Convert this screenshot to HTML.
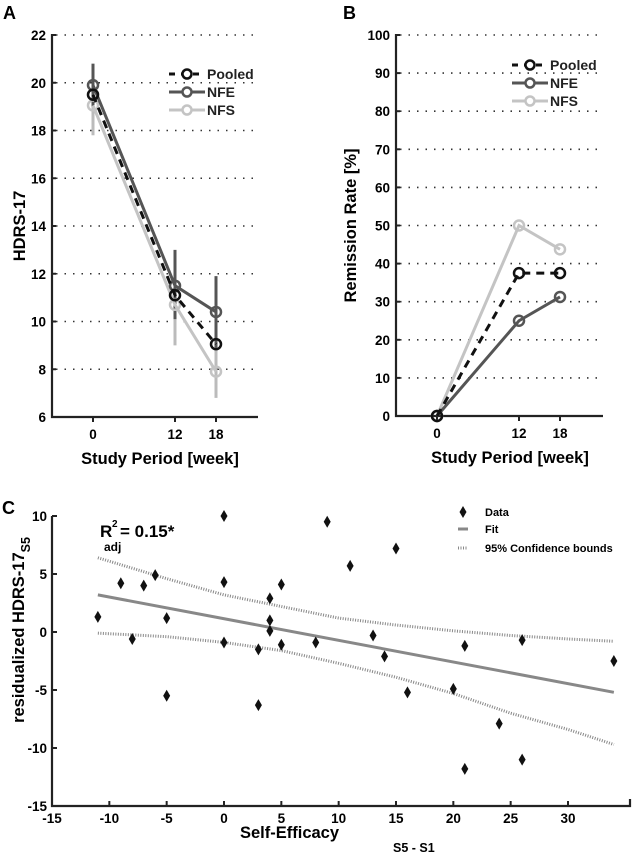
<!DOCTYPE html>
<html><head><meta charset="utf-8"><style>
html,body{margin:0;padding:0;background:#fff;}
svg{display:block;font-family:"Liberation Sans",Arial,sans-serif;font-weight:bold;}
</style></head><body>
<svg id="fig" width="633" height="856" viewBox="0 0 633 856">
<text x="3" y="19" font-size="18">A</text>
<text x="343" y="19" font-size="18">B</text>
<text x="2" y="514" font-size="18">C</text>
<g id="pa"></g>
<g id="pb"></g>
<g id="pc"></g>
</svg>
<script>
// Panel A data
const weeks = [0, 12, 18];
const aPooled = [19.5, 11.1, 9.05];
const aNFE = [19.9, 11.5, 10.4];
const aNFS = [19.05, 10.7, 7.9];
const aNFEErrLo = [19.0, 10.1, 8.9];
const aNFEErrHi = [20.8, 13.0, 11.9];
const aNFSErrLo = [17.8, 9.0, 6.8];
const aNFSErrHi = [20.3, 12.5, 9.0];
const aTicks = [6, 8, 10, 12, 14, 16, 18, 20, 22];
// Panel B data
const bPooled = [0, 37.5, 37.5];
const bNFE = [0, 25, 31.25];
const bNFS = [0, 50, 43.75];
const bTicks = [0, 10, 20, 30, 40, 50, 60, 70, 80, 90, 100];
// Panel C data
const cX = [-11,-9,-8,-7,-6,-5,-5,0,0,0,3,3,4,4,4,5,5,8,9,11,13,14,15,16,20,21,21,24,26,26,34];
const cY = [1.3,4.2,-0.6,4,4.9,1.2,-5.5,10,4.3,-0.9,-1.5,-6.3,2.9,1,0.1,4.1,-1.1,-0.9,9.5,5.7,-0.3,-2.1,7.2,-5.2,-4.9,-1.2,-11.8,-7.9,-0.7,-11,-2.5];
const fitX = [-11, 34];
const fitY = [3.2, -5.2];
const ciX = [-11,-5,0,5,10,15,20,25,30,34];
const ciUpper = [6.4,4.6,3.2,2.2,1.2,0.6,0.1,-0.3,-0.6,-0.8];
const ciLower = [-0.1,-0.4,-0.9,-1.6,-2.7,-3.9,-5.3,-7,-8.4,-9.7];
const cXTicks = [-15,-10,-5,0,5,10,15,20,25,30];
const cYTicks = [-15,-10,-5,0,5,10];

const NS='http://www.w3.org/2000/svg';
function mk(p,tag,at,txt){const e=document.createElementNS(NS,tag);for(const k in at)e.setAttribute(k,at[k]);if(txt!==undefined)e.textContent=txt;p.appendChild(e);return e;}

function linePanel(g, o){
  const sx=v=>o.x0+(v-o.xmin)/(o.xmax-o.xmin)*(o.x1-o.x0);
  const sy=v=>o.y0+(v-o.ymin)/(o.ymax-o.ymin)*(o.y1-o.y0);
  o.yTicks.forEach(t=>{
    const y=sy(t);
    if(t!==o.ymin){const gl=mk(g,'line',{x1:o.axX+4,x2:o.axEnd,y1:y,y2:y,stroke:'#333','stroke-width':1.6,'stroke-dasharray':'1.5 7'});
    }
    const tl=mk(g,'text',{x:o.axX-6,y:y+5,'font-size':13.5,'text-anchor':'end'},t);
    
    mk(g,'line',{x1:o.axX,x2:o.axX+4,y1:y,y2:y,stroke:'#222','stroke-width':2});
  });
  weeks.forEach(w=>{
    const x=sx(w);
    mk(g,'line',{x1:x,x2:x,y1:o.y0,y2:o.y0+5,stroke:'#222','stroke-width':2});
    const tl=mk(g,'text',{x:x,y:o.y0+22,'font-size':13.5,'text-anchor':'middle'},w);
    
  });
  const ax=mk(g,'path',{d:`M${o.axX},${o.y1-1}V${o.y0}H${o.axEnd}`,fill:'none',stroke:'#222','stroke-width':2.2});
  
  const xt=mk(g,'text',{x:o.xtX,y:o.y0+47,'font-size':16.5,'text-anchor':'middle'},'Study Period [week]');
  
  const yt=mk(g,'text',{x:0,y:0,'font-size':16.5,'text-anchor':'middle',transform:`translate(${o.ytX},${(o.y0+o.y1)/2}) rotate(-90)`},o.ytitle);
  
  (o.errs||[]).forEach(e=>{
    weeks.forEach((w,i)=>{
      const eb=mk(g,'line',{x1:sx(w),x2:sx(w),y1:sy(e.lo[i]),y2:sy(e.hi[i]),stroke:e.c,'stroke-width':3});
      
    });
  });
  o.series.forEach(s=>{
    const pl=mk(g,'polyline',{points:weeks.map((w,i)=>sx(w)+','+sy(s.v[i])).join(' '),fill:'none',stroke:s.c,'stroke-width':3,'stroke-dasharray':s.dash||'none'});
    
    weeks.forEach((w,i)=>{
      const c=mk(g,'circle',{cx:sx(w),cy:sy(s.v[i]),r:5,fill:'none',stroke:s.c,'stroke-width':2.5});
      
    });
  });
  const lg=mk(g,'g',{});
  
  const order=o.series.slice().reverse();
  order.forEach((s,i)=>{
    const y=o.legY+i*18;
    mk(lg,'line',{x1:o.legX-18,x2:o.legX+18,y1:y,y2:y,stroke:s.c,'stroke-width':3,'stroke-dasharray':s.dash?'6 6':'none'});
    mk(lg,'circle',{cx:o.legX,cy:y,r:4.5,fill:'#fff',stroke:s.c,'stroke-width':2.5});
    const t=mk(lg,'text',{x:o.legX+20,y:y+5,'font-size':14,fill:'#222'},s.n);
    
  });
}
linePanel(document.getElementById('pa'),{x0:93,x1:216,xmin:0,xmax:18,y0:417,y1:35,ymin:6,ymax:22,axX:52,axEnd:258,
  yTicks:aTicks,xtX:160,ytX:25,ytitle:'HDRS-17',legX:187,legY:74,
  errs:[{c:'#bbb',lo:aNFSErrLo,hi:aNFSErrHi},{c:'#555',lo:aNFEErrLo,hi:aNFEErrHi}],
  series:[{n:'NFS',v:aNFS,c:'#c4c4c4'},{n:'NFE',v:aNFE,c:'#555'},{n:'Pooled',v:aPooled,c:'#111',dash:'8 6'}]});
linePanel(document.getElementById('pb'),{x0:437,x1:560,xmin:0,xmax:18,y0:416,y1:35,ymin:0,ymax:100,axX:396,axEnd:603,
  yTicks:bTicks,xtX:510,ytX:356,ytitle:'Remission Rate [%]',legX:530,legY:65,
  series:[{n:'NFS',v:bNFS,c:'#c4c4c4'},{n:'NFE',v:bNFE,c:'#555'},{n:'Pooled',v:bPooled,c:'#111',dash:'8 6'}]});

// Panel C
(function(){
  const g=document.getElementById('pc');
  const sx=v=>52+(v+15)/45*(568-52);
  const sy=v=>806+(v+15)/25*(516-806);
  cYTicks.forEach(t=>{
    mk(g,'line',{x1:52,x2:57,y1:sy(t),y2:sy(t),stroke:'#222','stroke-width':2});
    const tl=mk(g,'text',{x:47,y:sy(t)+5,'font-size':13.5,'text-anchor':'end'},t);
    
  });
  cXTicks.forEach(t=>{
    mk(g,'line',{x1:sx(t),x2:sx(t),y1:806,y2:801,stroke:'#222','stroke-width':2});
    const tl=mk(g,'text',{x:sx(t),y:823,'font-size':13.5,'text-anchor':'middle'},t);
    
  });
  const ax=mk(g,'path',{d:'M52,516V806H630V799',fill:'none',stroke:'#222','stroke-width':2.2});
  
  const mkLine=(ys,name,dash,w,c)=>{
    const p=mk(g,'polyline',{points:ciX.map((x,i)=>sx(x)+','+sy(ys[i])).join(' '),fill:'none',stroke:c,'stroke-width':w,'stroke-dasharray':dash});
    
  };
  mkLine(ciUpper,'ci-upper','1 1.5',3,'#888');
  mkLine(ciLower,'ci-lower','1 1.5',3,'#888');
  const fl=mk(g,'line',{x1:sx(fitX[0]),y1:sy(fitY[0]),x2:sx(fitX[1]),y2:sy(fitY[1]),stroke:'#888','stroke-width':3});
  
  cX.forEach((x,i)=>{
    const X=sx(x),Y=sy(cY[i]);
    const d=mk(g,'path',{d:`M${X},${Y-6}L${X+3.5},${Y}L${X},${Y+6}L${X-3.5},${Y}Z`,fill:'#111'});
    
  });
  const r=mk(g,'text',{x:100,y:537,'font-size':17},'R');
  
  mk(g,'text',{x:112,y:527,'font-size':10},'2');
  mk(g,'text',{x:120,y:537,'font-size':17},'= 0.15*');
  mk(g,'text',{x:104,y:551,'font-size':12},'adj');
  const lg=mk(g,'g',{});
  mk(lg,'path',{d:'M463,506L466.5,512L463,518L459.5,512Z',fill:'#111'});
  mk(lg,'text',{x:485,y:516,'font-size':11},'Data');
  mk(lg,'line',{x1:458,x2:468,y1:529,y2:529,stroke:'#888','stroke-width':3});
  mk(lg,'text',{x:485,y:533,'font-size':11},'Fit');
  mk(lg,'line',{x1:458,x2:468,y1:548,y2:548,stroke:'#888','stroke-width':3,'stroke-dasharray':'1 1.5'});
  mk(lg,'text',{x:485,y:552,'font-size':11},'95% Confidence bounds');
  const xt=mk(g,'text',{x:240,y:838,'font-size':16.5},'Self-Efficacy');
  
  mk(g,'text',{x:393,y:852,'font-size':12.5},'S5 - S1');
  const yt=mk(g,'text',{x:0,y:0,'font-size':16.5,'text-anchor':'middle',transform:'translate(24,630) rotate(-90)'});
  
  yt.appendChild(document.createTextNode('residualized HDRS-17'));
  const ts=document.createElementNS(NS,'tspan');ts.setAttribute('font-size','12.5');ts.setAttribute('dy','6');ts.textContent='S5';yt.appendChild(ts);
})();
</script>
</body></html>
